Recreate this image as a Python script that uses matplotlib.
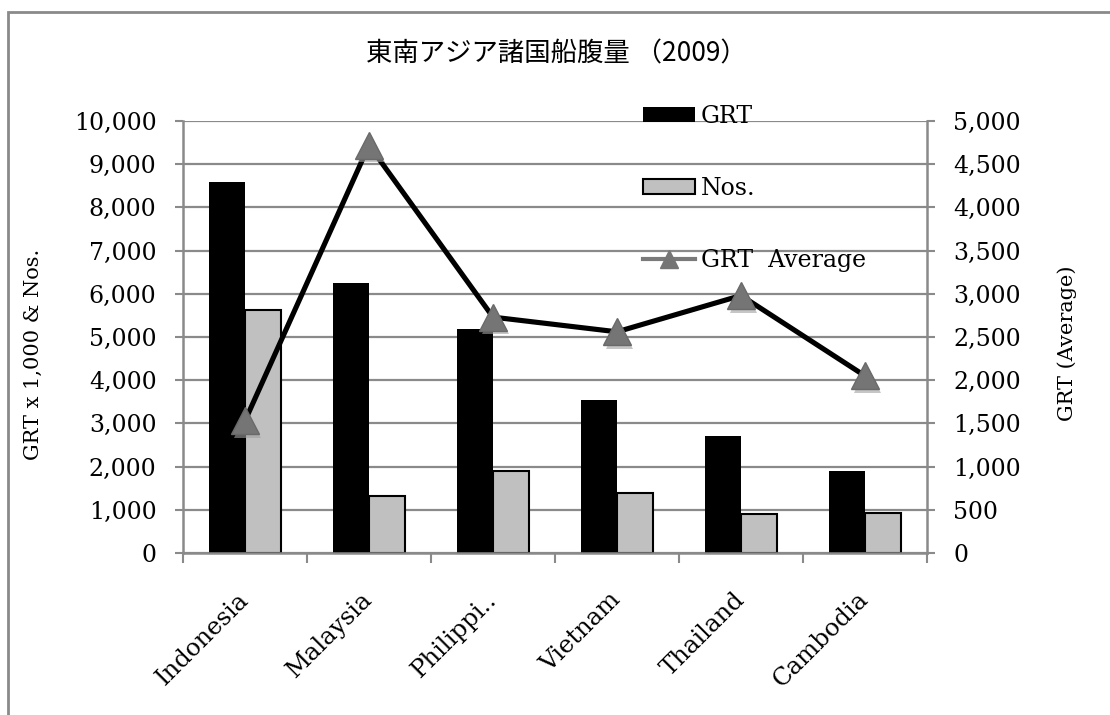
import numpy as np
import matplotlib
matplotlib.use("Agg")
import matplotlib.pyplot as plt
from matplotlib.patches import Patch, Rectangle
from matplotlib.lines import Line2D
from matplotlib.ticker import FuncFormatter, MultipleLocator
import matplotlib.patheffects as pe

plt.rcParams['font.family'] = ['DejaVu Serif', 'Noto Sans CJK JP']

# 船腹量データ
countries = ['Indonesia', 'Malaysia', 'Philippi..', 'Vietnam', 'Thailand', 'Cambodia']
grt = [8580, 6250, 5180, 3540, 2710, 1900]          # GRT x 1,000
nos = [5620, 1320, 1900, 1390, 910, 930]            # 隻数
grt_avg = [1530, 4720, 2730, 2560, 2980, 2050]      # 平均GRT

W, H = 1110, 715
fig = plt.figure(figsize=(W / 100, H / 100), dpi=100)
ax = fig.add_axes([183 / W, 1 - 553 / H, (927 - 183) / W, (553 - 121) / H])
ax2 = ax.twinx()

gray = '#8a8a8a'
x = np.arange(len(countries))
bw = 0.29

ax.bar(x - bw / 2, grt, bw, color='black', zorder=2)
ax.bar(x + bw / 2, nos, bw, color='#c0c0c0', edgecolor='black', linewidth=1.5, zorder=2)

ax2.plot(x, grt_avg, color='black', lw=3.7, solid_joinstyle='miter', zorder=3)
ax2.plot(x, grt_avg, ls='none', marker='^', ms=19.5, color='#757575', mec='#6a6a6a', zorder=4,
         path_effects=[pe.SimplePatchShadow(offset=(1.5, -2.5), shadow_rgbFace='#a0a0a0', alpha=0.6),
                       pe.Normal()])

# 軸
ax.set_xlim(-0.5, len(countries) - 0.5)
ax.set_ylim(0, 10000)
ax2.set_ylim(0, 5000)
ax.yaxis.set_major_locator(MultipleLocator(1000))
ax2.yaxis.set_major_locator(MultipleLocator(500))
fmt = FuncFormatter(lambda v, p: f'{v:,.0f}')
ax.yaxis.set_major_formatter(fmt)
ax2.yaxis.set_major_formatter(fmt)

ax.set_axisbelow(True)
ax.grid(axis='y', color=gray, lw=1.6)

ax.set_xticks(np.arange(-0.5, len(countries)), [''] * (len(countries) + 1))
ax.set_xticks(x, countries, minor=True)
ax.tick_params(axis='x', which='major', direction='out', length=7, width=1.5, color=gray)
ax.tick_params(axis='x', which='minor', length=0, pad=31, labelsize=17.5)
for lbl in ax.get_xticklabels(minor=True):
    lbl.set_rotation(45)
    lbl.set_ha('right')
    lbl.set_va('center')
    lbl.set_rotation_mode('anchor')

ax.tick_params(axis='y', direction='out', length=6, width=1.5, color=gray, pad=13, labelsize=17)
ax2.tick_params(axis='y', direction='out', length=6, width=1.5, color=gray, pad=13, labelsize=17)

for a in (ax, ax2):
    for side in ('top', 'left', 'right', 'bottom'):
        a.spines[side].set_visible(False)
ax.spines['left'].set_visible(True)
ax.spines['bottom'].set_visible(True)
ax2.spines['right'].set_visible(True)
for s in (ax.spines['left'], ax.spines['bottom'], ax2.spines['right']):
    s.set_color(gray)
    s.set_linewidth(1.8)

fig.text(33 / W, 1 - 354 / H, 'GRT x 1,000 & Nos.', rotation=90, ha='center', va='center', fontsize=15)
fig.text(1067 / W, 1 - 343 / H, 'GRT (Average)', rotation=90, ha='center', va='center', fontsize=15)
fig.text(556 / W, 1 - 54 / H, '東南アジア諸国船腹量 （2009）', ha='center', va='center', fontsize=19,
         family=['Noto Sans CJK JP', 'DejaVu Serif'])

handles = [
    Patch(facecolor='black', edgecolor='black', lw=0),
    Patch(facecolor='#c0c0c0', edgecolor='black', lw=1.5),
    Line2D([], [], color='#7a7a7a', lw=3, marker='^', ms=13, mfc='#757575', mec='#757575'),
]
fig.legend(handles, ['GRT', 'Nos.', 'GRT  Average'], loc='upper left',
           bbox_to_anchor=(643 / W, 1 - 105 / H), frameon=False, fontsize=17,
           borderpad=0, borderaxespad=0, handlelength=2.2, handleheight=0.6,
           handletextpad=0.25, labelspacing=2.08)

# 外枠
fig.add_artist(Rectangle((8 / W, -0.1), 1.2, 1.1 - 12 / H, transform=fig.transFigure,
                         fill=False, edgecolor=gray, lw=2))

fig.savefig('out.png', dpi=100)
